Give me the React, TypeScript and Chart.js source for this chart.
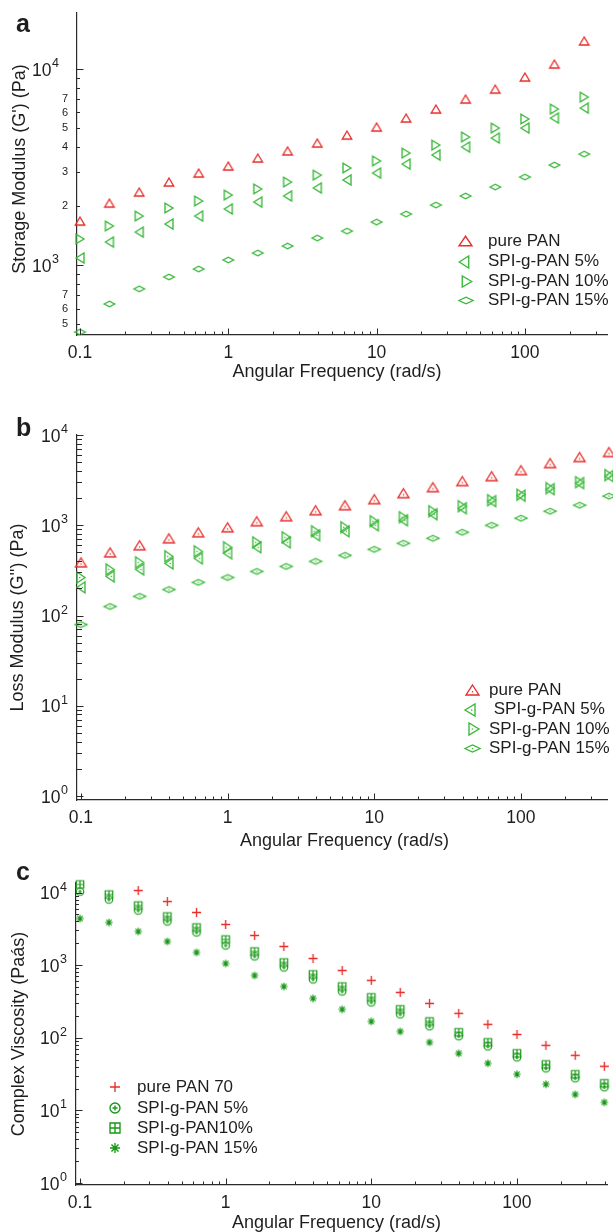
import React, { useEffect, useRef } from "react";
import { Chart, registerables } from "chart.js";
Chart.register(...registerables);

const FONT = "'Liberation Sans', Arial, Helvetica, sans-serif";
const TEXT = "#1e1e1e";
const AXIS = "#2a2a2a";
const RED = "#e62e2a";
const GREEN = "#38b838";
const DKGREEN = "#149814";

// ---------- data ----------
const freqA = [0.1, 0.158, 0.251, 0.398, 0.631, 1, 1.58, 2.51, 3.98, 6.31, 10, 15.8, 25.1, 39.8, 63.1, 100, 158, 251];
const freqB = [0.1, 0.158, 0.251, 0.398, 0.631, 1, 1.58, 2.51, 3.98, 6.31, 10, 15.8, 25.1, 39.8, 63.1, 100, 158, 251, 398];
const freqC = [0.1, 0.158, 0.251, 0.398, 0.631, 1, 1.58, 2.51, 3.98, 6.31, 10, 15.8, 25.1, 39.8, 63.1, 100, 158, 251, 398];

// (a) storage modulus G' (Pa)
const storagePurePAN = [1675, 2070, 2357, 2650, 2946, 3200, 3515, 3820, 4190, 4600, 5060, 5624, 6250, 7030, 7900, 9100, 10600, 13900];
const storageSPI5 = [1086, 1310, 1472, 1618, 1778, 1932, 2096, 2250, 2472, 2716, 2946, 3273, 3640, 4000, 4445, 5000, 5624, 6325];
const storageSPI10 = [1359, 1582, 1778, 1954, 2122, 2275, 2445, 2650, 2877, 3126, 3398, 3725, 4090, 4500, 5000, 5560, 6250, 7190];
const storageSPI15 = [455, 633, 756, 869, 954, 1061, 1151, 1250, 1373, 1490, 1656, 1820, 2023, 2250, 2500, 2812, 3236, 3680];

// (b) loss modulus G'' (Pa)
const lossPurePAN = [388, 501, 600, 717, 836, 950, 1108, 1259, 1468, 1668, 1945, 2268, 2645, 3085, 3500, 4080, 4885, 5700, 6475];
const lossSPI5 = [205, 271, 324, 378, 430, 489, 570, 647, 774, 858, 1000, 1136, 1325, 1545, 1848, 2126, 2512, 2930, 3505];
const lossSPI10 = [264, 324, 388, 453, 514, 570, 647, 736, 858, 950, 1108, 1227, 1431, 1626, 1896, 2180, 2577, 3003, 3594];
const lossSPI15 = [79.4, 126, 163, 194, 233, 264, 308, 350, 398, 464, 541, 631, 717, 836, 1000, 1196, 1431, 1668, 2100];

// (c) complex viscosity
const viscPurePAN = [null, null, 10650, 7510, 5310, 3630, 2560, 1807, 1236, 845, 617, 421, 297, 217, 153, 111, 78.7, 57.3, 40.5];
const viscSPI5 = [10300, 8010, 5650, 3990, 2820, 1866, 1318, 929, 636, 434, 307, 210, 144, 105, 76.2, 53.7, 37.9, 27.7, 20.8];
const viscSPI10 = [12900, 9380, 6620, 4677, 3300, 2255, 1541, 1088, 745, 509, 360, 246, 168, 119, 86.5, 61, 43, 31.4, 23.6];
const viscSPI15 = [4385, 3865, 2910, 2120, 1496, 1055, 721, 509, 348, 246, 168, 122, 86.5, 61, 44.5, 31.4, 22.9, 16.6, 12.9];

// tick labels
const xLabelValues = [0.1, 1, 10, 100];
const xLabelTexts = ["0.1", "1", "10", "100"];
const yMinorLabelValuesA = [500, 600, 700, 2000, 3000, 4000, 5000, 6000, 7000];
const yMinorLabelTextsA = ["5", "6", "7", "2", "3", "4", "5", "6", "7"];
const yMajorValuesA = [1000, 10000];
const yMajorExpA = ["3", "4"];
const yMajorValuesBC = [1, 10, 100, 1000, 10000];
const yMajorExpBC = ["0", "1", "2", "3", "4"];

// ---------- helpers ----------
type MarkerSpec = { kind: string; color: string; w: number; h: number; dot?: boolean; lw?: number };

function makeMarker(m: MarkerSpec): HTMLCanvasElement {
  const lw = m.lw ?? 1.35;
  const pad = 2;
  const c = document.createElement("canvas");
  c.width = Math.ceil(m.w + pad * 2);
  c.height = Math.ceil(m.h + pad * 2);
  const g = c.getContext("2d")!;
  const cx = c.width / 2, cy = c.height / 2, hw = m.w / 2, hh = m.h / 2;
  g.strokeStyle = m.color;
  g.fillStyle = m.color;
  g.lineWidth = lw;
  g.lineJoin = "miter";
  g.beginPath();
  let dx = 0, dy = 0;
  switch (m.kind) {
    case "up":
      g.moveTo(cx, cy - hh); g.lineTo(cx + hw, cy + hh); g.lineTo(cx - hw, cy + hh); g.closePath();
      dy = hh / 3;
      break;
    case "left":
      g.moveTo(cx - hw, cy); g.lineTo(cx + hw, cy - hh); g.lineTo(cx + hw, cy + hh); g.closePath();
      dx = hw / 3;
      break;
    case "right":
      g.moveTo(cx + hw, cy); g.lineTo(cx - hw, cy - hh); g.lineTo(cx - hw, cy + hh); g.closePath();
      dx = -hw / 3;
      break;
    case "diamond":
      g.moveTo(cx - hw, cy); g.lineTo(cx, cy - hh); g.lineTo(cx + hw, cy); g.lineTo(cx, cy + hh); g.closePath();
      break;
    case "plus":
      g.moveTo(cx - hw, cy); g.lineTo(cx + hw, cy); g.moveTo(cx, cy - hh); g.lineTo(cx, cy + hh);
      break;
    case "circplus":
      g.arc(cx, cy, hw, 0, Math.PI * 2);
      g.moveTo(cx - hw * 0.5, cy); g.lineTo(cx + hw * 0.5, cy); g.moveTo(cx, cy - hw * 0.5); g.lineTo(cx, cy + hw * 0.5);
      break;
    case "sqgrid":
      g.rect(cx - hw, cy - hh, m.w, m.h);
      g.moveTo(cx - hw, cy); g.lineTo(cx + hw, cy); g.moveTo(cx, cy - hh); g.lineTo(cx, cy + hh);
      break;
    case "star": {
      for (let k = 0; k < 4; k++) {
        const a = (k * Math.PI) / 4;
        g.moveTo(cx - Math.cos(a) * hw, cy - Math.sin(a) * hh);
        g.lineTo(cx + Math.cos(a) * hw, cy + Math.sin(a) * hh);
      }
      break;
    }
  }
  g.stroke();
  if (m.dot) g.fillRect(cx + dx - 0.6, cy + dy - 0.6, 1.3, 1.3);
  return c;
}

function logTicks(min: number, max: number): number[] {
  const out: number[] = [];
  for (let e = Math.floor(Math.log10(min)); e <= Math.ceil(Math.log10(max)); e++) {
    for (let k = 1; k <= 9; k++) {
      const v = Number((k * Math.pow(10, e)).toPrecision(6));
      if (v >= min && v <= max) out.push(v);
    }
  }
  return out;
}
const near = (a: number, b: number) => Math.abs(a - b) <= Math.abs(b) * 1e-6;
const isPow10 = (v: number) => Math.abs(Math.log10(v) - Math.round(Math.log10(v))) < 1e-6;
function lookup(v: number, vals: number[], texts: string[]): string {
  const i = vals.findIndex((x) => near(v, x));
  return i >= 0 ? texts[i] : "";
}

type DS = { label: string; freq: number[]; values: (number | null)[]; marker: MarkerSpec; legendMarker: MarkerSpec };
type Panel = {
  H: number; top: number; bottom: number; yAxisW: number;
  xMin: number; xMax: number; yMin: number; yMax: number;
  minorVals: number[]; minorTexts: string[]; majorVals: number[]; majorExp: string[]; majorGap: number;
  yMinorLen: number;
  xTitle: string; yTitle: string; xTitlePad: number; yTitlePad: number;
  letter: string; letterY: number;
  legendRows: number[]; legendMarkerX: number[]; legendTextX: number;
  datasets: DS[];
};

const panelA: Panel = {
  H: 400, top: 13, bottom: 335, yAxisW: 77,
  xMin: 0.0955, xMax: 357.5, yMin: 439.5, yMax: 19310,
  minorVals: yMinorLabelValuesA, minorTexts: yMinorLabelTextsA, majorVals: yMajorValuesA, majorExp: yMajorExpA, majorGap: 18,
  yMinorLen: 3,
  xTitle: "Angular Frequency (rad/s)  ", yTitle: "  Storage Modulus (G') (Pa)", xTitlePad: 19, yTitlePad: 11,
  letter: "a", letterY: 32,
  legendRows: [241, 261.5, 281, 300.5], legendMarkerX: [465, 464, 467, 465.5], legendTextX: 488,
  datasets: [
    { label: "pure PAN", freq: freqA, values: storagePurePAN, marker: { kind: "up", color: RED, w: 9.5, h: 8 }, legendMarker: { kind: "up", color: RED, w: 13, h: 9.5 } },
    { label: "SPI-g-PAN 5%", freq: freqA, values: storageSPI5, marker: { kind: "left", color: GREEN, w: 8, h: 10 }, legendMarker: { kind: "left", color: GREEN, w: 9.5, h: 12 } },
    { label: "SPI-g-PAN 10%", freq: freqA, values: storageSPI10, marker: { kind: "right", color: GREEN, w: 8, h: 9.5 }, legendMarker: { kind: "right", color: GREEN, w: 9.5, h: 11 } },
    { label: "SPI-g-PAN 15%", freq: freqA, values: storageSPI15, marker: { kind: "diamond", color: GREEN, w: 10.5, h: 5.5 }, legendMarker: { kind: "diamond", color: GREEN, w: 14, h: 6.5 } },
  ],
};

const panelB: Panel = {
  H: 455, top: 35, bottom: 400, yAxisW: 77,
  xMin: 0.094, xMax: 386, yMin: 0.903, yMax: 10000,
  minorVals: [], minorTexts: [], majorVals: yMajorValuesBC, majorExp: yMajorExpBC, majorGap: 9,
  yMinorLen: 5,
  xTitle: " Angular Frequency (rad/s)", yTitle: "Loss Modulus (G'') (Pa)", xTitlePad: 5, yTitlePad: 9.5,
  letter: "b", letterY: 36,
  legendRows: [290, 309.5, 329, 348], legendMarkerX: [472, 470, 474, 472], legendTextX: 489,
  datasets: [
    { label: "pure PAN", freq: freqB, values: lossPurePAN, marker: { kind: "up", color: RED, w: 11, h: 9, dot: true }, legendMarker: { kind: "up", color: RED, w: 13, h: 10, dot: true } },
    { label: " SPI-g-PAN 5%", freq: freqB, values: lossSPI5, marker: { kind: "left", color: GREEN, w: 8, h: 11, dot: true }, legendMarker: { kind: "left", color: GREEN, w: 10, h: 12, dot: true } },
    { label: "SPI-g-PAN 10%", freq: freqB, values: lossSPI10, marker: { kind: "right", color: GREEN, w: 8, h: 11, dot: true }, legendMarker: { kind: "right", color: GREEN, w: 10, h: 12, dot: true } },
    { label: "SPI-g-PAN 15%", freq: freqB, values: lossSPI15, marker: { kind: "diamond", color: GREEN, w: 12, h: 5.5, dot: true }, legendMarker: { kind: "diamond", color: GREEN, w: 15, h: 7, dot: true } },
  ],
};

const panelC: Panel = {
  H: 377, top: 28, bottom: 330, yAxisW: 76,
  xMin: 0.0939, xMax: 415, yMin: 0.939, yMax: 13520,
  minorVals: [], minorTexts: [], majorVals: yMajorValuesBC, majorExp: yMajorExpBC, majorGap: 9,
  yMinorLen: 3,
  xTitle: "Angular Frequency (rad/s)  ", yTitle: "Complex Viscosity (Paás)", xTitlePad: 0, yTitlePad: 10,
  letter: "c", letterY: 25,
  legendRows: [232, 253, 273, 293], legendMarkerX: [115, 115, 115, 115], legendTextX: 137,
  datasets: [
    { label: "pure PAN 70", freq: freqC, values: viscPurePAN, marker: { kind: "plus", color: RED, w: 9, h: 9 }, legendMarker: { kind: "plus", color: RED, w: 10, h: 10 } },
    { label: "SPI-g-PAN 5%", freq: freqC, values: viscSPI5, marker: { kind: "circplus", color: DKGREEN, w: 7.5, h: 7.5, lw: 1.2 }, legendMarker: { kind: "circplus", color: DKGREEN, w: 10, h: 10 } },
    { label: "SPI-g-PAN10%", freq: freqC, values: viscSPI10, marker: { kind: "sqgrid", color: DKGREEN, w: 7.5, h: 7.5, lw: 1.2 }, legendMarker: { kind: "sqgrid", color: DKGREEN, w: 10, h: 10 } },
    { label: "SPI-g-PAN 15%", freq: freqC, values: viscSPI15, marker: { kind: "star", color: DKGREEN, w: 7.5, h: 7.5, lw: 1.2 }, legendMarker: { kind: "star", color: DKGREEN, w: 10, h: 10 } },
  ],
};

function buildChart(canvas: HTMLCanvasElement, p: Panel): Chart {
  const dataMarkers = p.datasets.map((d) => makeMarker(d.marker));
  const legendMarkers = p.datasets.map((d) => makeMarker(d.legendMarker));
  const xTickVals = logTicks(p.xMin, p.xMax);
  const yTickVals = logTicks(p.yMin, p.yMax);

  const decor = {
    id: "panelDecor",
    afterDraw(chart: any) {
      const { ctx, chartArea: ca } = chart;
      const xs = chart.scales.x, ys = chart.scales.y;
      ctx.save();
      ctx.strokeStyle = AXIS;
      ctx.lineWidth = 1;
      ctx.beginPath();
      xs.ticks.forEach((t: any) => {
        const px = Math.round(xs.getPixelForValue(t.value)) + 0.5;
        const len = isPow10(t.value) ? 6.5 : 3.5;
        ctx.moveTo(px, ca.bottom);
        ctx.lineTo(px, ca.bottom - len);
      });
      ys.ticks.forEach((t: any) => {
        const py = Math.round(ys.getPixelForValue(t.value)) + 0.5;
        const len = isPow10(t.value) ? 6.5 : p.yMinorLen;
        ctx.moveTo(ca.left, py);
        ctx.lineTo(ca.left + len, py);
      });
      ctx.stroke();

      // decade labels "10" with superscript exponent, placed through the y scale
      ctx.fillStyle = TEXT;
      ctx.textBaseline = "alphabetic";
      ctx.textAlign = "left";
      p.majorVals.forEach((v, i) => {
        const py = ys.getPixelForValue(v);
        ctx.font = `12.5px ${FONT}`;
        const ew = ctx.measureText(p.majorExp[i]).width;
        ctx.font = `17.5px ${FONT}`;
        const bw = ctx.measureText("10").width;
        const right = ca.left - p.majorGap;
        const x0 = right - ew - bw - 0.5;
        ctx.fillText("10", x0, py + 6.5);
        ctx.font = `12.5px ${FONT}`;
        ctx.fillText(p.majorExp[i], x0 + bw + 0.5, py - 2);
      });

      ctx.font = `bold 25px ${FONT}`;
      ctx.fillText(p.letter, 16, p.letterY);

      ctx.font = `17px ${FONT}`;
      ctx.textBaseline = "middle";
      p.datasets.forEach((d, i) => {
        const img = legendMarkers[i];
        const y = p.legendRows[i];
        ctx.drawImage(img, Math.round(p.legendMarkerX[i] - img.width / 2), Math.round(y - img.height / 2));
        ctx.fillText(d.label, p.legendTextX, y);
      });
      ctx.restore();
    },
  };

  return new Chart(canvas, {
    type: "scatter",
    data: {
      datasets: p.datasets.map((d, i) => ({
        label: d.label,
        data: d.freq
          .map((f, j) => ({ x: f, y: d.values[j] as number }))
          .filter((pt) => pt.y !== null && pt.y !== undefined),
        pointStyle: dataMarkers[i] as any,
        pointRadius: 5,
        showLine: false,
        clip: false as any,
      })),
    },
    options: {
      responsive: false,
      animation: false,
      events: [],
      layout: { padding: { left: 0, right: 0, top: p.top, bottom: 0 } },
      plugins: { legend: { display: false }, tooltip: { enabled: false } },
      scales: {
        x: {
          type: "logarithmic",
          position: "bottom",
          min: p.xMin,
          max: p.xMax,
          grid: { display: false, drawTicks: false },
          border: { display: true, color: AXIS, width: 1.2 },
          afterBuildTicks: (s: any) => {
            s.ticks = xTickVals.map((v) => ({ value: v }));
          },
          afterFit: (s: any) => {
            s.height = p.H - p.bottom;
            s.paddingLeft = 0;
            s.paddingRight = 0;
          },
          ticks: {
            autoSkip: false,
            maxRotation: 0,
            minRotation: 0,
            padding: 8,
            color: TEXT,
            font: { family: FONT, size: 17.5 },
            callback: (v: any) => lookup(Number(v), xLabelValues, xLabelTexts),
          },
          title: {
            display: true,
            text: p.xTitle,
            color: TEXT,
            font: { family: FONT, size: 18, lineHeight: 1 },
            padding: { top: 0, bottom: p.xTitlePad },
          },
        },
        y: {
          type: "logarithmic",
          position: "left",
          min: p.yMin,
          max: p.yMax,
          grid: { display: false, drawTicks: false },
          border: { display: true, color: AXIS, width: 1.2 },
          afterBuildTicks: (s: any) => {
            s.ticks = yTickVals.map((v) => ({ value: v }));
          },
          afterFit: (s: any) => {
            s.width = p.yAxisW;
            s.paddingTop = 0;
            s.paddingBottom = 0;
          },
          ticks: {
            autoSkip: false,
            padding: 9,
            color: TEXT,
            font: { family: FONT, size: 11 },
            callback: (v: any) => lookup(Number(v), p.minorVals, p.minorTexts),
          },
          title: {
            display: true,
            text: p.yTitle,
            color: TEXT,
            font: { family: FONT, size: 18, lineHeight: 1 },
            padding: { top: p.yTitlePad, bottom: 0 },
          },
        },
      },
    } as any,
    plugins: [decor as any],
  });
}

function PanelCanvas({ panel, top }: { panel: Panel; top: number }) {
  const ref = useRef<HTMLCanvasElement>(null);
  useEffect(() => {
    const chart = buildChart(ref.current!, panel);
    return () => chart.destroy();
  }, [panel]);
  return (
    <canvas
      ref={ref}
      width={613}
      height={panel.H}
      style={{ position: "absolute", left: 0, top, width: 613, height: panel.H, display: "block" }}
    />
  );
}

export default function App() {
  return (
    <div style={{ position: "absolute", left: 0, top: 0, width: 613, height: 1232, background: "#ffffff", overflow: "hidden" }}>
      <PanelCanvas panel={panelA} top={0} />
      <PanelCanvas panel={panelB} top={400} />
      <PanelCanvas panel={panelC} top={855} />
    </div>
  );
}
